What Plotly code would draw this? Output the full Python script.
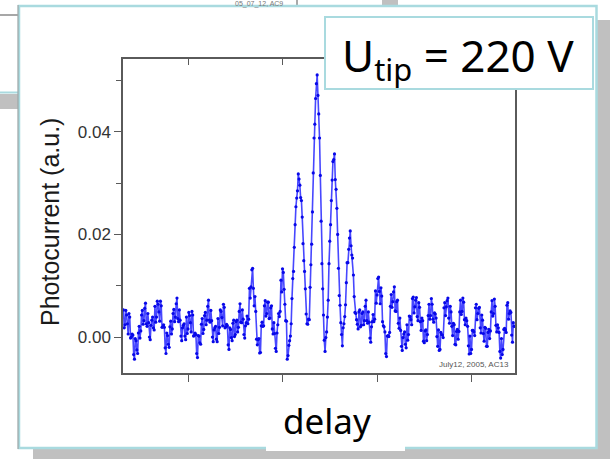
import numpy as np
import plotly.graph_objects as go

# Interferometric autocorrelation trace, photocurrent vs. delay.
# Samples alternate between two interleaved sets (even / odd delay steps).
delay_start_fs = -10.25
delay_step_fs = 0.125
# photocurrent in units of 1e-3 a.u., even delay steps
photocurrent_even = [
    5.3, 2.4, 4.3, 0.6, 3.9, 0.0, 0.4, -4.3, -0.7, -3.2,
    2.1, 1.2, 5.2, 3.2, 6.6, 2.1, 2.8, -0.5, 3.3, 1.8,
    6.0, 3.9, 6.4, 3.1, 6.1, 2.0, 1.9, -3.2, 0.3, -2.0,
    3.1, 1.6, 5.4, 3.9, 7.6, 3.0, 3.3, -0.7, 2.3, 0.2,
    3.9, 1.6, 4.2, 1.0, 4.3, 0.3, 0.5, -4.0, 0.2, -1.4,
    3.6, 1.5, 4.8, 3.3, 7.2, 2.9, 3.2, -0.9, 1.8, -0.4,
    3.6, 1.9, 5.0, 2.2, 5.8, 2.0, 2.2, -2.4, 1.5, -0.7,
    3.3, 0.5, 3.3, 1.9, 6.5, 2.8, 3.5, -0.2, 2.8, 2.6,
    9.5, 9.8, 13.4, 6.1, 5.0, -1.5, -0.3, -3.0, 2.9, 2.2,
    7.1, 4.6, 6.8, 3.7, 6.1, 0.6, 0.7, -2.8, 2.4, 4.0,
    11.1, 13.3, 9.3, 3.2, -4.3, -1.6, 0.2, 7.5, 12.8, 21.9,
    27.1, 31.8, 29.6, 26.6, 18.2, 12.8, 4.5, 2.5, 3.4, 14.1,
    24.4, 38.8, 46.5, 51.1, 43.5, 31.5, 14.3, 4.3, -2.8, 1.0,
    7.2, 18.7, 26.6, 34.2, 35.7, 28.8, 20.0, 8.1, 2.8, -1.7,
    2.6, 6.3, 14.5, 17.1, 20.7, 16.0, 12.1, 4.8, 3.4, 1.6,
    5.3, 2.3, 4.9, 3.2, 7.2, 2.7, 2.9, -1.0, 3.0, 3.0,
    9.0, 8.2, 11.7, 6.5, 8.0, 2.2, 1.0, -3.8, 0.3, 0.9,
    8.3, 6.9, 9.8, 5.0, 7.2, 1.7, 1.3, -2.6, 0.6, -1.4,
    2.4, 0.5, 4.0, 2.4, 7.8, 5.9, 7.7, 3.2, 5.8, 1.3,
    3.2, -1.1, 1.4, 0.5, 6.4, 4.2, 6.4, 2.9, 4.5, 0.1,
    1.4, -2.4, 0.5, -0.1, 6.7, 5.9, 7.6, 2.7, 4.9, 0.3,
    2.4, -1.5, 1.5, 1.1, 7.2, 5.0, 6.8, 2.4, 3.2, -1.7,
    0.2, -2.4, 1.3, 0.3, 6.4, 4.6, 5.8, 0.8, 3.3, -0.8,
    1.7, -1.8, 1.5, 1.2, 7.1, 4.6, 6.0, 1.0, 1.8, -2.8,
    -0.3, -2.4, 1.7, 0.9, 6.7, 4.6, 4.8, -1.0, 2.1,
]
# photocurrent in units of 1e-3 a.u., odd delay steps
photocurrent_odd = [
    1.8, 5.2, 2.6, 4.6, -0.2, 0.6, -3.4, -0.3, -2.5, 0.8,
    -0.2, 4.3, 2.5, 5.6, 2.6, 4.6, 0.0, 2.3, 3.9, 1.4,
    2.9, 7.0, 4.9, 7.0, 1.9, 2.4, -2.1, 0.8, -1.4, 2.0,
    0.6, 4.6, 3.0, 6.5, 3.6, 5.3, 0.2, 1.8, 2.6, -0.5,
    0.7, 4.8, 2.8, 5.0, 0.2, 0.8, -3.2, 0.3, -1.1, 2.5,
    0.7, 4.2, 2.4, 6.0, 3.3, 5.2, 0.0, 1.4, 2.1, -0.9,
    0.7, 5.3, 3.8, 6.4, 1.8, 2.5, -1.5, 1.8, -0.1, 2.7,
    0.1, 3.0, 1.0, 5.0, 2.9, 5.3, 0.5, 2.2, 4.1, 3.5,
    7.6, 13.1, 9.5, 7.9, -0.4, -0.5, -3.1, 2.2, 2.1, 6.1,
    4.1, 6.8, 3.6, 5.7, 1.6, 2.8, -2.2, 0.8, 4.6, 5.0,
    8.8, 12.6, 6.4, 3.1, -3.6, -0.7, 2.6, 11.4, 17.5, 25.4,
    28.5, 30.8, 27.2, 23.4, 14.9, 9.4, 2.6, 3.5, 9.7, 18.1,
    32.0, 41.5, 49.4, 47.1, 38.8, 22.6, 9.4, -0.6, -0.1, 3.9,
    14.3, 21.9, 30.6, 34.6, 30.7, 25.1, 13.4, 6.2, 0.5, 1.8,
    4.0, 10.6, 14.5, 19.3, 17.8, 15.4, 7.9, 4.6, 2.5, 4.9,
    2.0, 4.6, 2.4, 6.0, 3.2, 4.9, -0.2, 2.0, 4.4, 3.5,
    6.6, 11.4, 8.9, 9.6, 3.0, 2.0, -3.2, 0.2, 0.1, 6.0,
    5.8, 8.8, 5.1, 6.9, 2.7, 3.7, -1.8, -0.1, 1.0, -2.1,
    -0.6, 4.1, 3.4, 7.5, 4.7, 7.2, 4.0, 6.7, 3.0, 3.7,
    -0.8, 1.2, -0.7, 4.2, 3.5, 7.5, 3.5, 4.7, 3.7, -1.8,
    -2.6, 0.9, 0.4, 5.7, 4.2, 7.1, 3.7, 6.0, 2.1, 2.7,
    -1.4, 1.1, -0.4, 4.9, 4.4, 7.6, 3.4, 3.7, 2.1, -3.3,
    -3.2, 1.3, 1.0, 5.7, 3.4, 5.6, 1.8, 4.3, 0.7, 1.9,
    -1.8, 0.9, -0.3, 4.9, 4.1, 7.4, 2.3, 2.4, 0.9, -4.1,
    -3.4, 1.5, 1.4, 6.2, 3.5, 5.1, 0.4, 2.8,
]
y_tickvals = [0.0, 0.02, 0.04]
y_ticktext = ["0.00", "0.02", "0.04"]
y_minor_tickvals = [0.01, 0.03, 0.05]
x_tickvals = [0, 15, 30, 45]

# interleave the two sample sets into one trace
samples = np.empty(len(photocurrent_even) + len(photocurrent_odd))
samples[0::2] = photocurrent_even
samples[1::2] = photocurrent_odd
current = samples * 1e-3
delay = delay_start_fs + delay_step_fs * np.arange(len(samples))

W, H = 610, 459
L, R, T, B = 123, 95, 59, 86
PW, PH = W - L - R, H - T - B


def px(x):
    return (x - L) / PW


def py(y):
    return (H - B - y) / PH


def rect(x0, y0, x1, y1, fill=None, line=None, lw=0, layer="below"):
    return dict(type="rect", xref="paper", yref="paper",
                x0=px(x0), x1=px(x1), y0=py(y1), y1=py(y0),
                fillcolor=fill if fill else "rgba(0,0,0,0)",
                line=dict(color=line if line else "rgba(0,0,0,0)", width=lw),
                layer=layer)


def seg(x0, y0, x1, y1, color, lw, layer="below"):
    return dict(type="line", xref="paper", yref="paper",
                x0=px(x0), x1=px(x1), y0=py(y0), y1=py(y1),
                line=dict(color=color, width=lw), layer=layer)


BLUE_EDGE = "#a9dadf"
SHADOW = "#c0c0c0"

fig = go.Figure()
fig.add_trace(go.Scatter(
    x=delay, y=current, mode="lines+markers",
    line=dict(color="rgba(25,25,255,0.8)", width=1.6),
    marker=dict(color="#0808e8", size=3.2),
    hoverinfo="skip", showlegend=False,
))
# top axis carries inward ticks
fig.add_trace(go.Scatter(x=[delay[0]], y=[current[0]], xaxis="x2",
                         mode="markers", marker=dict(opacity=0),
                         hoverinfo="skip", showlegend=False))

axis_line = "#5a5a5a"
shapes = [
    # slide panels behind
    rect(597, 20, 610, 459, fill=SHADOW),
    rect(33, 449, 610, 459, fill=SHADOW),
    seg(0, 15, 18, 15, "#8a8a8a", 1.5),
    rect(0, 94, 18, 109, fill=SHADOW),
    seg(0, 92.5, 18, 92.5, BLUE_EDGE, 2),
    rect(382, 0, 398, 5, fill=SHADOW),
    seg(297, 0, 297, 5, "#555555", 1),
    # main panel
    rect(19, 6, 596.5, 448, fill="white", line=BLUE_EDGE, lw=2.5),
    seg(18, 5, 18, 449, "#9a9a9a", 1),
    # label boxes
    rect(325, 17, 593, 89, fill="white", line=BLUE_EDGE, lw=2, layer="above"),
    rect(266, 386, 405, 451, fill="white", layer="above"),
]

annotations = [
    dict(text="U<sub>tip</sub> = 220 V", xref="paper", yref="paper",
         x=px(458), y=py(57), xanchor="center", yanchor="middle",
         showarrow=False, font=dict(family="Noto Sans", size=44, color="black")),
    dict(text="delay", xref="paper", yref="paper",
         x=px(327), y=py(420), xanchor="center", yanchor="middle",
         showarrow=False, font=dict(family="Noto Sans", size=35, color="black")),
    dict(text="Photocurrent (a.u.)", xref="paper", yref="paper",
         x=px(50), y=py(222), xanchor="center", yanchor="middle",
         textangle=-90, showarrow=False,
         font=dict(family="Liberation Sans", size=25, color="#1a1a1a")),
    dict(text="July12, 2005, AC13", xref="paper", yref="paper",
         x=px(511), y=py(364), xanchor="right", yanchor="middle",
         showarrow=False, font=dict(family="Liberation Sans", size=8, color="#555555")),
    dict(text="05_07_12, AC9", xref="paper", yref="paper",
         x=px(259), y=py(4), xanchor="center", yanchor="middle",
         showarrow=False, font=dict(family="Liberation Sans", size=7, color="#777777")),
]

fig.update_layout(
    width=W, height=H,
    margin=dict(l=L, r=R, t=T, b=B, pad=0),
    paper_bgcolor="white", plot_bgcolor="rgba(0,0,0,0)",
    shapes=shapes, annotations=annotations,
    xaxis=dict(range=[-10.32, 51.9], tickvals=x_tickvals, showticklabels=False,
               ticks="outside", ticklen=7, tickwidth=1.2, tickcolor=axis_line,
               showline=True, linecolor=axis_line, linewidth=1.5, mirror=True,
               showgrid=False, zeroline=False),
    xaxis2=dict(range=[-10.32, 51.9], tickvals=x_tickvals, showticklabels=False,
                overlaying="x", side="top", ticks="inside", ticklen=6,
                tickwidth=1.2, tickcolor=axis_line, showline=False,
                showgrid=False, zeroline=False),
    yaxis=dict(range=[-0.0070, 0.0542], tickvals=y_tickvals, ticktext=y_ticktext,
               ticks="outside", ticklen=7, tickwidth=1.2, tickcolor=axis_line,
               minor=dict(tickvals=y_minor_tickvals, ticks="outside", ticklen=5,
                          tickwidth=1.2, tickcolor=axis_line),
               tickfont=dict(family="Liberation Sans", size=17, color="#333333"),
               showline=True, linecolor=axis_line, linewidth=1.5, mirror=True,
               showgrid=False, zeroline=False),
)

fig.write_html("out.html")
